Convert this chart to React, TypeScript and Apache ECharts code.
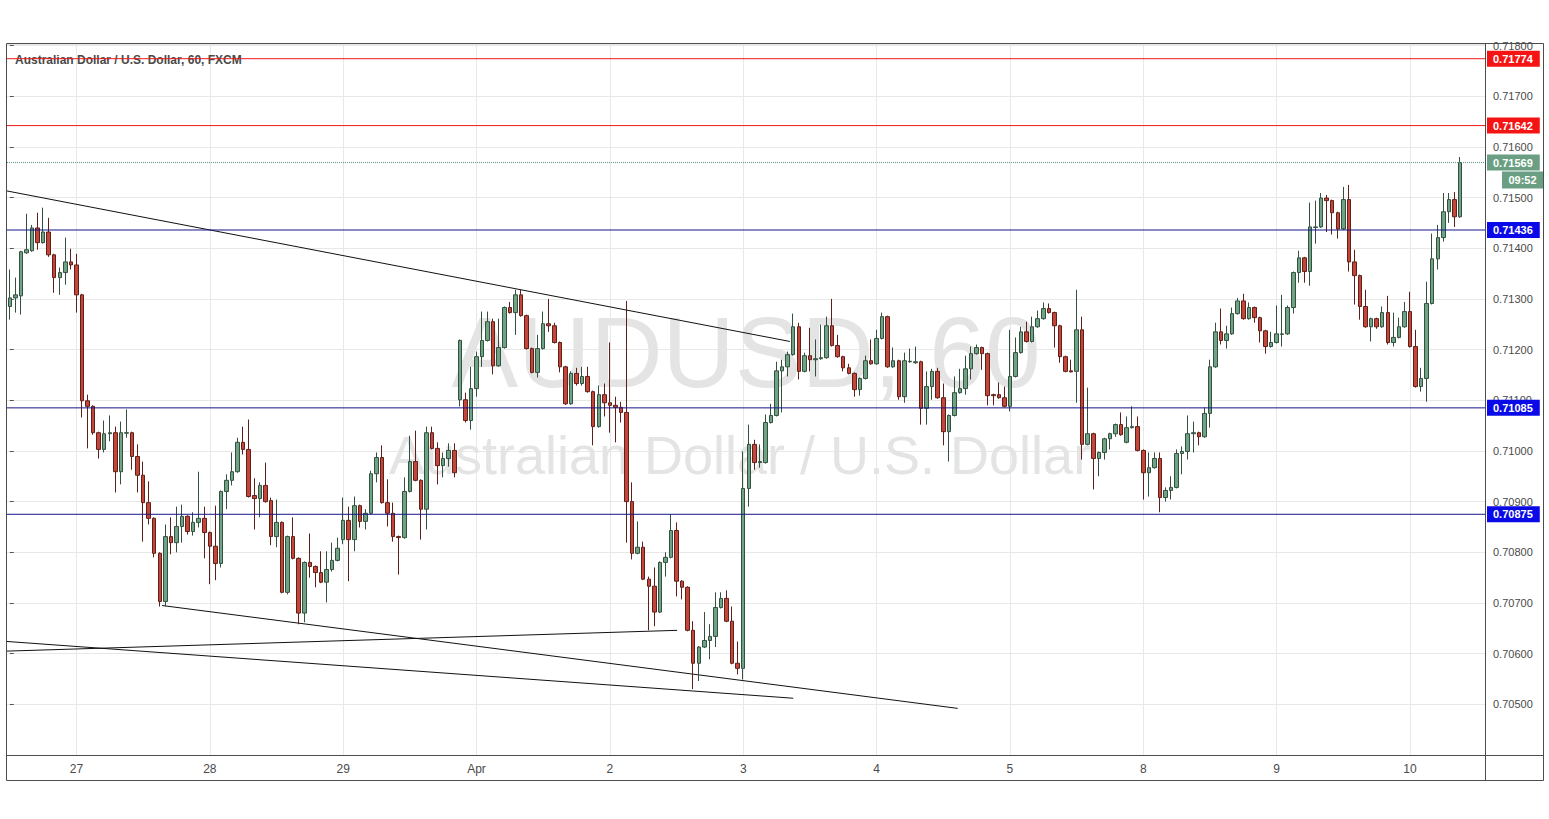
import React, { useEffect, useRef } from 'react';
import * as echarts from 'echarts';

// Hourly AUD/USD candles, each [open, high, low, close] in pipettes (1e-5)
const mar26 = [
  [71285,71358,71259,71302],[71302,71342,71273,71308],[71306,71395,71269,71393],[71391,71468,71389,71397],
  [71395,71446,71393,71440],[71440,71470,71397,71411],[71411,71480,71409,71432],[71432,71460,71383,71387],
  [71387,71389,71312,71342],[71342,71362,71308,71352],[71352,71421,71328,71373],[71373,71399,71358,71367],
];
const mar27 = [
  [71367,71389,71273,71308],[71308,71310,71066,71099],[71099,71111,71005,71088],[71088,71090,71032,71036],
  [71036,71038,70985,71003],[71003,71060,70997,71034],[71034,71070,71019,71036],[71036,71048,70918,70959],
  [70959,71058,70934,71036],[71035,71082,71026,71036],[71036,71038,70963,70989],[70989,71013,70918,70952],
  [70952,70979,70821,70898],[70898,70940,70855,70867],[70867,70869,70790,70798],[70798,70800,70693,70703],
  [70703,70855,70693,70831],[70831,70869,70796,70819],[70819,70890,70800,70851],[70851,70894,70819,70871],
  [70871,70873,70835,70841],[70841,70879,70833,70859],[70859,70959,70849,70867],[70867,70890,70788,70839],
];
const mar28 = [
  [70839,70841,70737,70812],[70812,70892,70745,70778],[70778,70922,70770,70920],[70920,70954,70885,70942],
  [70942,70997,70932,70959],[70959,71026,70957,71017],[71017,71048,70993,71003],[71003,71062,70908,70910],
  [70912,70946,70845,70906],[70906,70938,70869,70932],[70932,70977,70898,70900],[70902,70908,70814,70831],
  [70831,70904,70810,70859],[70859,70861,70719,70721],[70721,70833,70717,70831],[70831,70869,70786,70788],
  [70788,70790,70658,70680],[70680,70782,70662,70780],[70780,70837,70750,70772],[70772,70774,70731,70760],
  [70760,70802,70739,70741],[70741,70802,70701,70766],[70766,70819,70762,70784],[70784,70829,70782,70808],
];
const mar29 = [
  [70825,70908,70816,70863],[70863,70890,70743,70825],[70825,70910,70802,70892],[70892,70894,70849,70861],
  [70861,70885,70845,70877],[70877,70961,70875,70955],[70955,70997,70938,70987],[70987,71011,70896,70898],
  [70898,70944,70851,70877],[70877,70898,70821,70831],[70831,70833,70756,70829],[70829,70948,70827,70920],
  [70920,71030,70918,70979],[70979,71040,70940,70942],[70942,70944,70825,70885],[70885,71048,70845,71036],
  [71036,71048,71003,71005],[71005,71017,70934,70971],[70971,70997,70948,70985],[70985,71015,70969,71001],
  [71001,71015,70948,70957],[71101,71220,71088,71218],[71101,71115,71056,71060],[71060,71166,71042,71123],
];
const apr01 = [
  [71123,71196,71107,71186],[71186,71275,71166,71218],[71218,71275,71216,71255],[71255,71261,71151,71168],
  [71168,71261,71166,71204],[71204,71285,71202,71283],[71283,71294,71271,71273],[71273,71318,71229,71308],
  [71308,71318,71265,71267],[71267,71269,71200,71202],[71202,71204,71153,71155],[71155,71229,71145,71202],
  [71202,71275,71200,71251],[71251,71300,71235,71247],[71247,71253,71212,71214],[71214,71216,71155,71166],
  [71166,71168,71091,71093],[71093,71157,71091,71153],[71153,71164,71129,71133],[71133,71166,71129,71147],
  [71147,71166,71115,71117],[71117,71119,71011,71048],[71048,71129,71046,71111],[71111,71133,71068,71095],
];
const apr02 = [
  [71095,71214,71036,71090],[71090,71107,71017,71086],[71086,71097,71056,71076],[71076,71296,70819,70900],
  [70900,70938,70786,70798],[70798,70861,70796,70810],[70810,70821,70745,70747],[70747,70752,70646,70733],
  [70733,70770,70654,70682],[70682,70782,70680,70780],[70780,70800,70752,70790],[70790,70875,70788,70843],
  [70843,70859,70713,70743],[70743,70745,70707,70731],[70731,70733,70644,70646],[70646,70664,70530,70581],
  [70581,70615,70546,70613],[70613,70682,70611,70626],[70626,70658,70589,70634],[70634,70721,70613,70691],
  [70691,70721,70689,70709],[70709,70725,70662,70664],[70664,70693,70579,70581],[70581,70624,70559,70571],
];
const apr03 = [
  [70571,70999,70549,70926],[70926,71052,70890,71013],[71013,71022,70963,70977],[70977,71013,70967,70979],
  [70977,71072,70975,71056],[71056,71093,71054,71070],[71070,71176,71068,71158],[71158,71180,71076,71166],
  [71166,71196,71147,71190],[71190,71271,71188,71245],[71245,71253,71141,71157],[71157,71194,71155,71188],
  [71188,71243,71157,71180],[71180,71220,71147,71182],[71182,71249,71180,71184],[71184,71265,71182,71247],
  [71247,71300,71206,71208],[71208,71229,71184,71186],[71186,71188,71157,71164],[71164,71172,71151,71153],
  [71153,71155,71107,71121],[71121,71145,71109,71143],[71143,71188,71141,71178],[71178,71220,71170,71172],
];
const apr04 = [
  [71172,71239,71170,71222],[71222,71273,71220,71265],[71265,71267,71164,71166],[71166,71204,71164,71178],
  [71178,71180,71101,71107],[71107,71194,71095,71178],[71176,71202,71174,71177],[71174,71206,71172,71176],
  [71176,71178,71052,71084],[71084,71157,71052,71127],[71127,71162,71101,71157],[71157,71164,71103,71105],
  [71105,71133,71011,71038],[71038,71072,70979,71070],[71070,71147,71068,71115],[71115,71162,71113,71123],
  [71123,71188,71111,71162],[71162,71206,71141,71192],[71192,71210,71190,71204],[71204,71206,71160,71192],
  [71192,71194,71090,71109],[71111,71113,71090,71109],[71111,71135,71103,71105],[71105,71127,71086,71088],
];
const apr05 = [
  [71088,71239,71078,71147],[71147,71224,71145,71194],[71194,71245,71192,71235],[71235,71255,71214,71216],
  [71216,71265,71214,71245],[71245,71277,71243,71261],[71261,71293,71259,71281],[71281,71291,71271,71273],
  [71273,71275,71204,71247],[71247,71249,71174,71186],[71186,71188,71155,71157],[71158,71180,71155,71156],
  [71157,71318,71095,71239],[71239,71265,70983,71013],[71013,71125,71011,71034],[71034,71036,70924,70985],
  [70985,70999,70950,70997],[70997,71026,70983,71024],[71024,71036,71003,71034],[71034,71054,71028,71052],
  [71052,71076,71030,71032],[71017,71068,71015,71046],[71046,71088,71044,71048],[71048,71068,70999,71001],
];
const apr08 = [
  [71001,71003,70904,70957],[70957,70997,70910,70967],[70967,70997,70965,70985],[70985,70997,70879,70908],
  [70908,70928,70900,70922],[70922,70950,70904,70928],[70928,71003,70926,70995],[70995,71009,70954,70999],
  [70999,71070,70983,71034],[71034,71058,70997,71036],[71036,71038,71011,71028],[71028,71086,71026,71074],
  [71074,71180,71046,71166],[71166,71253,71164,71235],[71235,71281,71210,71218],[71218,71247,71202,71231],
  [71231,71283,71229,71271],[71271,71302,71269,71296],[71296,71310,71259,71261],[71261,71293,71259,71283],
  [71283,71285,71253,71263],[71263,71265,71214,71237],[71237,71239,71192,71206],[71206,71235,71204,71214],
];
const apr09 = [
  [71214,71287,71212,71231],[71230,71308,71206,71231],[71231,71287,71229,71283],[71283,71354,71271,71352],
  [71352,71395,71332,71381],[71381,71383,71332,71354],[71354,71490,71326,71442],[71441,71494,71409,71442],
  [71442,71509,71440,71499],[71499,71505,71432,71494],[71494,71496,71427,71470],[71470,71472,71419,71438],
  [71438,71521,71436,71496],[71496,71525,71354,71373],[71373,71397,71289,71346],[71346,71348,71259,71285],
  [71285,71318,71243,71245],[71245,71263,71216,71261],[71261,71263,71241,71245],[71245,71285,71243,71273],
  [71273,71306,71210,71214],[71214,71273,71206,71224],[71224,71263,71222,71245],[71245,71294,71243,71275],
];
const apr10 = [
  [71275,71314,71204,71206],[71206,71239,71125,71127],[71127,71164,71117,71143],[71143,71334,71097,71291],
  [71291,71429,71289,71379],[71379,71446,71358,71421],[71421,71509,71413,71472],[71472,71509,71450,71496],
  [71496,71511,71442,71462],[71462,71580,71460,71569],
];

// Day tick labels (each starts the next day block)
const dayLabels = ['27', '28', '29', 'Apr', '2', '3', '4', '5', '8', '9', '10'];
const emptyBarsRight = 4;

// Horizontal levels
const resistanceLevels = [0.71774, 0.71642];
const supportLevels = [0.71436, 0.71085, 0.70875];
const countdown = '09:52';

// Trendlines: [candle index, price]
const trendUpper = [[-0.5, 0.71513], [140.4, 0.71216]];
const trendLowerA = [[27.4, 0.70695], [170.6, 0.70492]];
const trendLowerB = [[-0.5, 0.70624], [141.0, 0.70512]];
const trendRising = [[-0.5, 0.70605], [120.1, 0.70646]];

const W = 1549;
const H = 819;
const FONT = '"Liberation Sans", Arial, sans-serif';

export default function App() {
  const ref = useRef<HTMLDivElement>(null);

  useEffect(() => {
    const el = ref.current;
    if (!el) return;
    const chart = echarts.init(el, undefined, { renderer: 'svg', width: W, height: H });

    const blocks = [mar26, mar27, mar28, mar29, apr01, apr02, apr03, apr04, apr05, apr08, apr09, apr10];
    const candles = blocks.flat();
    const tickAt: Record<number, string> = {};
    let acc = 0;
    blocks.forEach((b, k) => {
      if (k > 0) tickAt[acc] = dayLabels[k - 1];
      acc += b.length;
    });
    const total = candles.length + emptyBarsRight;
    const categories = Array.from({ length: total }, (_, i) => String(i));
    const series = candles.map(([o, h, l, c]) => [o / 1e5, c / 1e5, l / 1e5, h / 1e5]);
    const lastClose = candles[candles.length - 1][3] / 1e5;

    type Level = { value: number; line: string; box: string; dash: string };
    const levels: Level[] = [
      ...resistanceLevels.map((v) => ({ value: v, line: '#f01818', box: '#f51414', dash: 'solid' })),
      ...supportLevels.map((v) => ({ value: v, line: '#16168a', box: '#0a0ae8', dash: 'solid' })),
      { value: lastClose, line: '#5c9a7b', box: '#6b9f83', dash: 'dotted' },
    ];

    const levelSeries = levels.map((lv) => ({
      type: 'line',
      xAxisIndex: 1,
      yAxisIndex: 0,
      data: [[-0.5, lv.value], [total - 0.5, lv.value]],
      symbol: 'none',
      silent: true,
      z: 5,
      lineStyle: { color: lv.line, width: 1, type: lv.dash },
      endLabel: {
        show: true,
        distance: 2,
        formatter: () => lv.value.toFixed(5),
        color: '#ffffff',
        backgroundColor: lv.box,
        fontWeight: 'bold',
        fontSize: 11,
        fontFamily: FONT,
        padding: [3, 7, 2, 6],
      },
    }));

    const trendSeries = [trendUpper, trendLowerA, trendLowerB, trendRising].map((t) => ({
      type: 'line',
      xAxisIndex: 1,
      yAxisIndex: 0,
      data: t,
      symbol: 'none',
      silent: true,
      z: 3,
      lineStyle: { color: '#111111', width: 1 },
    }));

    chart.setOption({
      animation: false,
      backgroundColor: '#ffffff',
      textStyle: { fontFamily: FONT },
      grid: { left: 7, top: 44, width: 1478, height: 711 },
      xAxis: [
        {
          type: 'category',
          data: categories,
          boundaryGap: true,
          axisLine: { show: false },
          axisTick: { show: false },
          axisLabel: {
            interval: (i: number) => tickAt[i] !== undefined,
            formatter: (_v: string, i: number) => tickAt[i] ?? '',
            color: '#4a4a4a',
            fontSize: 12,
            margin: 8,
            fontFamily: FONT,
          },
          splitLine: {
            show: true,
            alignWithLabel: true,
            interval: (i: number) => tickAt[i] !== undefined,
            lineStyle: { color: '#e8e8e8', width: 1 },
          },
        },
        { type: 'value', min: -0.5, max: total - 0.5, show: false },
      ],
      yAxis: {
        type: 'value',
        position: 'right',
        min: 0.704,
        max: 0.71803,
        interval: 0.001,
        axisLine: { show: false },
        axisTick: { show: true, length: 4, lineStyle: { color: '#555' } },
        axisLabel: {
          formatter: (v: number) => v.toFixed(5),
          color: '#4a4a4a',
          fontSize: 11,
          margin: 8,
          showMinLabel: false,
          showMaxLabel: false,
          fontFamily: FONT,
        },
        splitLine: { lineStyle: { color: '#e8e8e8', width: 1 } },
      },
      series: [
        {
          type: 'candlestick',
          data: series,
          barWidth: 4,
          z: 4,
          itemStyle: {
            color: '#6ea385',
            color0: '#c4463a',
            borderColor: '#34503f',
            borderColor0: '#5e2019',
            borderWidth: 1,
          },
        },
        ...trendSeries,
        ...levelSeries,
      ],
    });

    const yLast = chart.convertToPixel({ yAxisIndex: 0 }, lastClose) as number;
    const frame = '#4d4d4d';
    chart.setOption({
      graphic: [
        {
          type: 'text',
          z: 1,
          silent: true,
          style: {
            text: 'AUDUSD, 60',
            x: 746,
            y: 352,
            align: 'center',
            verticalAlign: 'middle',
            font: `100px ${FONT}`,
            fill: '#e4e4e4',
          },
        },
        {
          type: 'text',
          z: 1,
          silent: true,
          style: {
            text: 'Australian Dollar / U.S. Dollar',
            x: 740,
            y: 455,
            align: 'center',
            verticalAlign: 'middle',
            font: `54px ${FONT}`,
            fill: '#e4e4e4',
          },
        },
        {
          type: 'text',
          z: 1,
          silent: true,
          style: {
            text: 'Australian Dollar / U.S. Dollar, 60, FXCM',
            x: 15,
            y: 60,
            verticalAlign: 'middle',
            font: `bold 12px ${FONT}`,
            fill: '#4a4a4a',
          },
        },
        {
          type: 'rect',
          z: 10,
          silent: true,
          shape: { x: 6.5, y: 43.5, width: 1537, height: 737 },
          style: { fill: 'none', stroke: frame, lineWidth: 1 },
        },
        {
          type: 'line',
          z: 10,
          silent: true,
          shape: { x1: 1485.5, y1: 43.5, x2: 1485.5, y2: 780.5 },
          style: { stroke: frame, lineWidth: 1 },
        },
        {
          type: 'line',
          z: 10,
          silent: true,
          shape: { x1: 6.5, y1: 755.5, x2: 1543.5, y2: 755.5 },
          style: { stroke: frame, lineWidth: 1 },
        },
        {
          type: 'rect',
          z: 10,
          silent: true,
          shape: { x: 1502, y: yLast + 9, width: 41, height: 17 },
          style: { fill: '#6b9f83' },
        },
        {
          type: 'text',
          z: 11,
          silent: true,
          style: {
            text: countdown,
            x: 1522.5,
            y: yLast + 17.5,
            align: 'center',
            verticalAlign: 'middle',
            font: `bold 11px ${FONT}`,
            fill: '#ffffff',
          },
        },
      ],
    });

    return () => chart.dispose();
  }, []);

  return (
    <div
      ref={ref}
      style={{ position: 'absolute', left: 0, top: 0, width: W, height: H, background: '#ffffff' }}
    />
  );
}
